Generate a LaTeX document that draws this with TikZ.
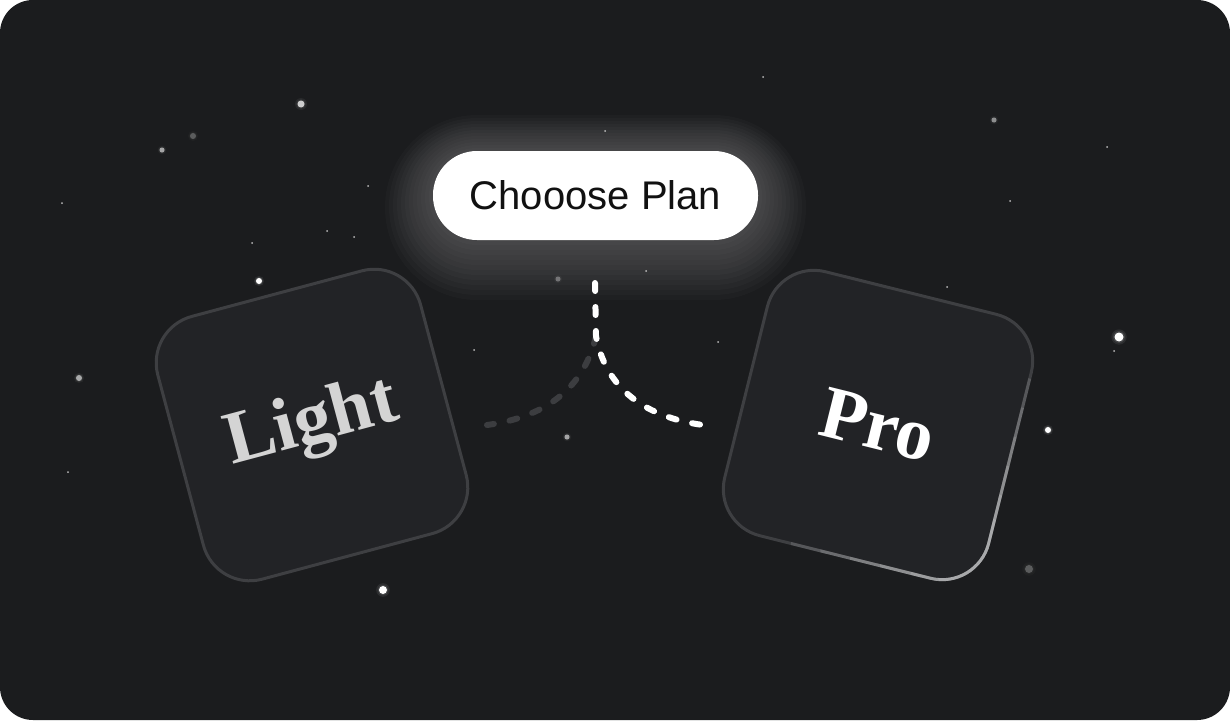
\documentclass[tikz,border=0pt]{standalone}
\usepackage{fontspec}
\usepackage{xcolor}
\usetikzlibrary{shapes,arrows,positioning}
\setmainfont{Liberation Serif}
\newfontfamily\pillfont{Liberation Sans}
\definecolor{bgdark}{HTML}{1B1C1E}
\definecolor{boxfill}{HTML}{222326}
\definecolor{boxline}{HTML}{3E3F42}
\definecolor{dashgray}{HTML}{3C3D40}
\definecolor{lighttext}{HTML}{D4D4D4}
\definecolor{pilltext}{HTML}{111111}

\begin{document}
\begin{tikzpicture}[x=1pt,y=-1pt]
\tikzstyle{plan box} = [rectangle, rounded corners=48pt, minimum width=272pt, minimum height=272pt, inner sep=0pt, fill=boxfill, draw=boxline, line width=3pt, font=\fontsize{75}{75}\selectfont\bfseries]
\tikzstyle{pill} = [rectangle, rounded corners=44pt, minimum width=325pt, minimum height=89pt, inner sep=0pt, fill=white, text=pilltext, font=\pillfont\fontsize{40}{40}\selectfont]
\tikzstyle{dash line} = [line width=6pt, line cap=round, dash pattern=on 8pt off 16pt]
\tikzstyle{glow} = [fill=white, opacity=0.02]

\fill[white] (0,0) rectangle (1230,720);
\fill[bgdark, rounded corners=33pt] (0,0) rectangle (1230,720);
\useasboundingbox (0,0) rectangle (1230,720);

% stars
\foreach \x/\y/\r/\c in {301/104/3.5/white!78!bgdark, 259/281/3/white, 383/590/4/white, 1119/337/4.5/white, 1048/430/3/white,
  162/150/2.5/white!60!bgdark, 79/378/3/white!62!bgdark, 567/437/2.5/white!60!bgdark, 994/120/2.5/white!50!bgdark,
  193/136/3/white!28!bgdark, 558/279/2.5/white!35!bgdark, 1029/569/4/white!28!bgdark}
{
  \fill[\c, opacity=0.08] (\x,\y) circle (1.7*\r);
  \fill[\c, opacity=0.12] (\x,\y) circle (1.3*\r);
  \fill[\c] (\x,\y) circle (\r);
}
\foreach \x/\y in {62/203, 368/186, 327/231, 354/237, 252/243, 763/77, 1107/147, 1010/201, 605/131,
  646/271, 947/287, 718/342, 474/350, 68/472, 1114/351}
  \fill[white!70!bgdark] (\x,\y) circle (1);

% glow behind the pill
\coordinate (pillc) at (595.5,195.5);
\foreach \g [evaluate=\g as \gr using 44+4*\g] in {1,...,12}
  \fill[glow, rounded corners=\gr pt] ([shift={(-162.5-4*\g,-44.5-3*\g)}]pillc) rectangle ([shift={(162.5+4*\g,44.5+5*\g)}]pillc);

\node[pill] (choose) at (pillc) {Chooose Plan};

\node[plan box, rotate=15, text=lighttext] (light) at (312,425) {Light};
\node[plan box, rotate=-14, text=white] (pro) at (878,425) {Pro};

% highlight on the pro box
\foreach \rad in {190,160,130,100,70,45}
{
  \begin{scope}
    \clip (980,562) circle (\rad);
    \node[plan box, rotate=-14, fill=none, draw=white, opacity=0.13] at (878,425) {};
  \end{scope}
}

\coordinate (stemtop) at (595,283);
\coordinate (fork) at (596,336);
\coordinate (lightend) at (487,425);
\coordinate (proend) at (703,425);

\draw[dash line, dashgray] (fork) .. controls +(-9,39) and +(73,-10) .. (lightend);
\draw[dash line, white] (stemtop) -- (fork) .. controls +(7,39) and +(-73,-10) .. (proend);
\end{tikzpicture}
\end{document}
